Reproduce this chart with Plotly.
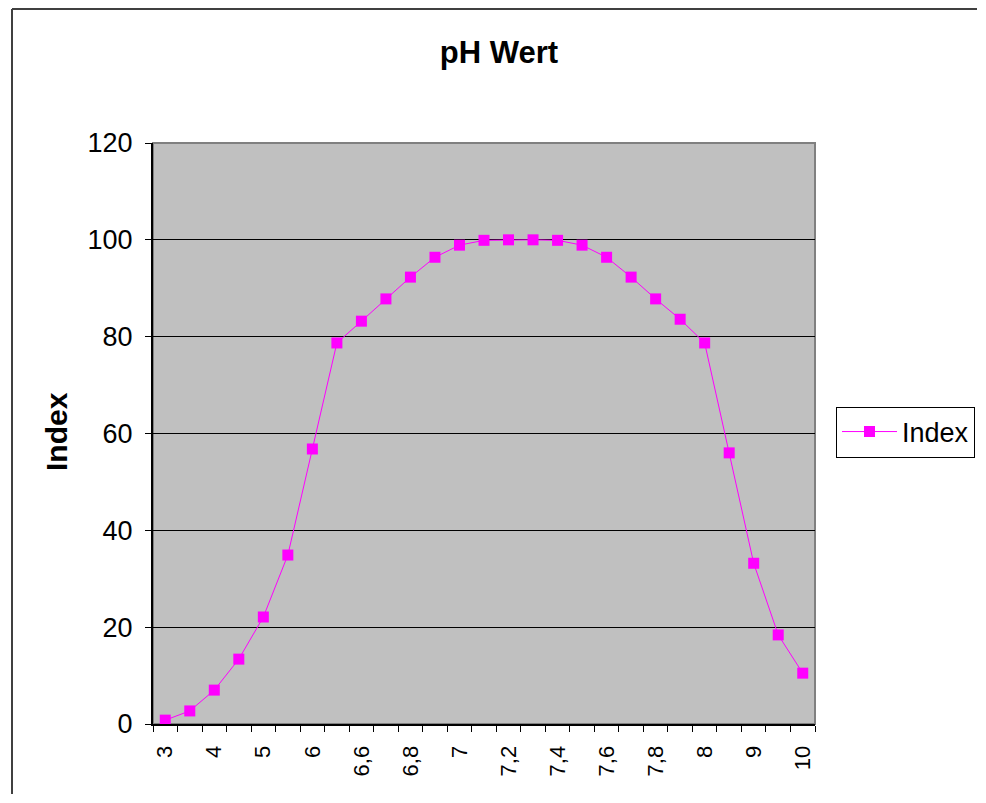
import plotly.graph_objects as go

categories = ["3", "3,5", "4", "4,5", "5", "5,5", "6", "6,3", "6,6", "6,7", "6,8", "6,9",
              "7", "7,1", "7,2", "7,3", "7,4", "7,5", "7,6", "7,7", "7,8", "7,9", "8",
              "8,5", "9", "9,5", "10"]
index_values = [0.8, 2.7, 7.0, 13.4, 22.1, 34.9, 56.8, 78.7, 83.2, 87.8, 92.3, 96.4,
                98.9, 99.9, 100.0, 100.0, 99.9, 98.9, 96.4, 92.3, 87.8, 83.6, 78.7,
                56.0, 33.2, 18.4, 10.5]
shown_labels = ["3", "4", "5", "6", "6,6", "6,8", "7", "7,2", "7,4", "7,6", "7,8", "8", "9", "10"]
tick_labels = [c if c in shown_labels else "" for c in categories]

FONT = "Liberation Sans, Arial, sans-serif"
OFF = 8                      # page body margin
W, H = 986 - 2 * OFF, 803 - 2 * OFF
# plot area in reference pixel coordinates
L, R, T, B = 153, 815, 143, 724
pw, ph = R - L, B - T

def px(xr):
    return (xr - L) / pw

def py(yr):
    return (B - yr) / ph

fig = go.Figure()
fig.add_trace(go.Scatter(
    x=categories, y=index_values, mode="lines+markers", name="Index",
    line=dict(color="#FF00FF", width=1),
    marker=dict(symbol="square", size=11, color="#FF00FF"),
))

fig.update_layout(
    width=W, height=H,
    margin=dict(l=L - OFF, r=W - (R - OFF), t=T - OFF, b=H - (B - OFF), autoexpand=False),
    paper_bgcolor="white",
    plot_bgcolor="#C0C0C0",
    font=dict(family=FONT, size=22, color="black"),
    title=dict(text="<b>pH Wert</b>", x=(499 - OFF) / W, xanchor="center",
               y=1 - (52 - OFF) / H, yanchor="middle",
               font=dict(family=FONT, size=31, color="black")),
    showlegend=True,
    legend=dict(x=px(836), xanchor="left", y=py(432), yanchor="middle",
                bordercolor="black", borderwidth=1, bgcolor="white",
                font=dict(family=FONT, size=27, color="black"),
                itemwidth=55),
    xaxis=dict(type="category", categoryorder="array", categoryarray=categories,
               tickmode="array", tickvals=categories, ticktext=tick_labels,
               tickson="boundaries", ticks="outside", ticklen=6, tickcolor="black",
               tickangle=-90, showgrid=False, showline=True, linecolor="black",
               linewidth=2, range=[-0.5, len(categories) - 0.5],
               ticklabelstandoff=11,
               tickfont=dict(family=FONT, size=22, color="black"), zeroline=False),
    yaxis=dict(range=[0, 120], tickmode="linear", tick0=0, dtick=20,
               ticks="outside", ticklen=6, tickcolor="black",
               showgrid=True, gridcolor="black", gridwidth=1,
               showline=True, linecolor="black", linewidth=2, zeroline=False,
               ticklabelstandoff=7,
               tickfont=dict(family=FONT, size=27, color="black")),
    annotations=[dict(text="<b>Index</b>", textangle=-90, xref="paper", yref="paper",
                      x=px(56), y=py(432), xanchor="center", yanchor="middle",
                      showarrow=False, font=dict(family=FONT, size=30, color="black"))],
    shapes=[
        dict(type="rect", xref="paper", yref="paper", x0=0, x1=1, y0=0, y1=1,
             line=dict(color="#808080", width=2), fillcolor="rgba(0,0,0,0)", layer="below"),
        dict(type="line", xref="paper", yref="paper",
             x0=px(12), x1=px(977), y0=py(9), y1=py(9),
             line=dict(color="#404040", width=2)),
        dict(type="line", xref="paper", yref="paper",
             x0=px(12), x1=px(12), y0=py(9), y1=py(794),
             line=dict(color="#404040", width=2)),
    ],
)

fig.write_html("out.html")
